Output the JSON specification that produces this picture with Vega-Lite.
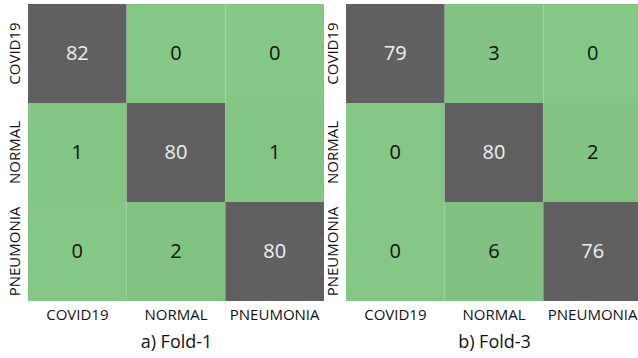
{
  "$schema": "https://vega.github.io/schema/vega-lite/v6.json",
  "padding": {"left": 6, "top": 4, "right": 0, "bottom": 0},
  "spacing": 0,
  "background": "white",
  "config": {
    "view": {"stroke": null},
    "font": "Open Sans",
    "axis": {"labelFont": "Open Sans", "labelFontSize": 15, "labelColor": "#111", "domain": false, "ticks": false, "grid": false, "titleFont": "Open Sans", "titleFontSize": 18, "titleFontWeight": "normal", "titleColor": "#111"}
  },
  "data": {"values": [
    {"fold": "a) Fold-1", "actual": "COVID19", "pred": "COVID19", "n": 82},
    {"fold": "a) Fold-1", "actual": "COVID19", "pred": "NORMAL", "n": 0},
    {"fold": "a) Fold-1", "actual": "COVID19", "pred": "PNEUMONIA", "n": 0},
    {"fold": "a) Fold-1", "actual": "NORMAL", "pred": "COVID19", "n": 1},
    {"fold": "a) Fold-1", "actual": "NORMAL", "pred": "NORMAL", "n": 80},
    {"fold": "a) Fold-1", "actual": "NORMAL", "pred": "PNEUMONIA", "n": 1},
    {"fold": "a) Fold-1", "actual": "PNEUMONIA", "pred": "COVID19", "n": 0},
    {"fold": "a) Fold-1", "actual": "PNEUMONIA", "pred": "NORMAL", "n": 2},
    {"fold": "a) Fold-1", "actual": "PNEUMONIA", "pred": "PNEUMONIA", "n": 80},
    {"fold": "b) Fold-3", "actual": "COVID19", "pred": "COVID19", "n": 79},
    {"fold": "b) Fold-3", "actual": "COVID19", "pred": "NORMAL", "n": 3},
    {"fold": "b) Fold-3", "actual": "COVID19", "pred": "PNEUMONIA", "n": 0},
    {"fold": "b) Fold-3", "actual": "NORMAL", "pred": "COVID19", "n": 0},
    {"fold": "b) Fold-3", "actual": "NORMAL", "pred": "NORMAL", "n": 80},
    {"fold": "b) Fold-3", "actual": "NORMAL", "pred": "PNEUMONIA", "n": 2},
    {"fold": "b) Fold-3", "actual": "PNEUMONIA", "pred": "COVID19", "n": 0},
    {"fold": "b) Fold-3", "actual": "PNEUMONIA", "pred": "NORMAL", "n": 6},
    {"fold": "b) Fold-3", "actual": "PNEUMONIA", "pred": "PNEUMONIA", "n": 76}
  ]},
  "hconcat": [
    {
      "width": 296, "height": 297,
      "transform": [{"filter": "datum.fold === 'a) Fold-1'"}],
      "encoding": {
        "x": {"field": "pred", "type": "nominal", "sort": ["COVID19", "NORMAL", "PNEUMONIA"], "scale": {"paddingInner": 0, "paddingOuter": 0}, "axis": {"title": "a) Fold-1", "labelAngle": 0, "labelPadding": 6, "titlePadding": 11}},
        "y": {"field": "actual", "type": "nominal", "sort": ["COVID19", "NORMAL", "PNEUMONIA"], "scale": {"paddingInner": 0, "paddingOuter": 0}, "axis": {"title": null, "labelAngle": -90, "labelPadding": 6}}
      },
      "layer": [
        {"mark": {"type": "rect"}, "encoding": {"color": {"field": "n", "type": "quantitative", "legend": null, "scale": {"type": "threshold", "domain": [1, 2, 3, 4, 50], "range": ["#85C885", "#83C583", "#82C382", "#82C282", "#81C181", "#606060"]}}}},
        {"mark": {"type": "text", "font": "Open Sans", "fontSize": 20}, "encoding": {"text": {"field": "n", "type": "quantitative"}, "color": {"condition": {"test": "datum.n > 50", "value": "#f0f0f0"}, "value": "#111"}}}
      ]
    },
    {
      "width": 296, "height": 297,
      "transform": [{"filter": "datum.fold === 'b) Fold-3'"}],
      "encoding": {
        "x": {"field": "pred", "type": "nominal", "sort": ["COVID19", "NORMAL", "PNEUMONIA"], "scale": {"paddingInner": 0, "paddingOuter": 0}, "axis": {"title": "b) Fold-3", "labelAngle": 0, "labelPadding": 6, "titlePadding": 11}},
        "y": {"field": "actual", "type": "nominal", "sort": ["COVID19", "NORMAL", "PNEUMONIA"], "scale": {"paddingInner": 0, "paddingOuter": 0}, "axis": {"title": null, "labelAngle": -90, "labelPadding": 6}}
      },
      "layer": [
        {"mark": {"type": "rect"}, "encoding": {"color": {"field": "n", "type": "quantitative", "legend": null, "scale": {"type": "threshold", "domain": [1, 2, 3, 4, 50], "range": ["#85C885", "#83C583", "#82C382", "#82C282", "#81C181", "#606060"]}}}},
        {"mark": {"type": "text", "font": "Open Sans", "fontSize": 20}, "encoding": {"text": {"field": "n", "type": "quantitative"}, "color": {"condition": {"test": "datum.n > 50", "value": "#f0f0f0"}, "value": "#111"}}}
      ]
    }
  ],
  "resolve": {"scale": {"color": "independent"}}
}
